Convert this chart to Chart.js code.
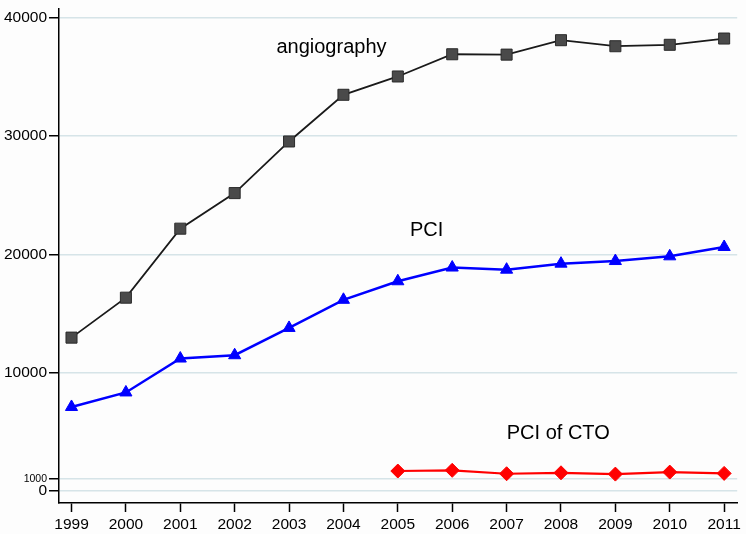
<!DOCTYPE html>
<html>
<head>
<meta charset="utf-8">
<script src="https://cdn.jsdelivr.net/npm/chart.js@4"></script>
<style>
    html, body { margin: 0; padding: 0; background: #ffffff; }
    #wrap { width: 746px; height: 534px; }
</style>
</head>
<body>
<div id="wrap"><canvas id="trendChart" width="746" height="534"></canvas></div>
<script>
// Values
const years = [1999, 2000, 2001, 2002, 2003, 2004, 2005, 2006, 2007, 2008, 2009, 2010, 2011];
const angiography = [12950, 16330, 22170, 25180, 29550, 33500, 35050, 36930, 36900, 38120, 37610, 37730, 38260];
const pci = [7080, 8310, 11180, 11460, 13770, 16150, 17720, 18880, 18700, 19210, 19430, 19830, 20620];
const ctoPci = [null, null, null, null, null, null, 1660, 1720, 1430, 1510, 1400, 1570, 1460];
const yTicks = [0, 1000, 10000, 20000, 30000, 40000];

// Text labels placed in data units
const seriesLabels = [
    { text: 'angiography', x: 2003.78, y: 37500 },
    { text: 'PCI', x: 2005.53, y: 22050 },
    { text: 'PCI of CTO', x: 2007.95, y: 4870 }
];

const FONT = '"Liberation Sans", Arial, Helvetica, sans-serif';

function toPoints(values) {
    return years.map((yr, i) => ({ x: yr, y: values[i] }));
}

const labelPlugin = {
    id: 'seriesLabels',
    afterDatasetsDraw(chart) {
        const ctx = chart.ctx;
        const xs = chart.scales.x;
        const ys = chart.scales.y;
        ctx.save();
        ctx.fillStyle = '#000000';
        ctx.font = '20px ' + FONT;
        ctx.textAlign = 'center';
        ctx.textBaseline = 'middle';
        seriesLabels.forEach(l => {
            ctx.fillText(l.text, xs.getPixelForValue(l.x), ys.getPixelForValue(l.y));
        });
        ctx.restore();
    }
};

const bgPlugin = {
    id: 'bg',
    beforeDraw(chart) {
        const ctx = chart.ctx;
        ctx.save();
        ctx.fillStyle = '#fdfdfd';
        ctx.fillRect(0, 0, chart.width, chart.height);
        ctx.restore();
    }
};

new Chart(document.getElementById('trendChart').getContext('2d'), {
    type: 'line',
    data: {
        datasets: [
            {
                label: 'angiography',
                data: toPoints(angiography),
                borderColor: '#1a1a1a',
                borderWidth: 1.8,
                pointStyle: 'rect',
                pointRadius: 7.8,
                pointBackgroundColor: '#4a4a4a',
                pointBorderColor: '#2a2a2a',
                pointBorderWidth: 1,
                tension: 0
            },
            {
                label: 'PCI',
                data: toPoints(pci),
                borderColor: '#0000ff',
                borderWidth: 2.5,
                pointStyle: 'triangle',
                pointRadius: 7,
                pointBackgroundColor: '#0000ff',
                pointBorderColor: '#0000ff',
                pointBorderWidth: 1,
                tension: 0
            },
            {
                label: 'PCI of CTO',
                data: toPoints(ctoPci),
                borderColor: '#ff0000',
                borderWidth: 2.2,
                pointStyle: 'rectRot',
                pointRadius: 7,
                pointBackgroundColor: '#ff0000',
                pointBorderColor: '#ff0000',
                pointBorderWidth: 1,
                spanGaps: false,
                tension: 0
            }
        ]
    },
    options: {
        responsive: false,
        animation: false,
        devicePixelRatio: 1,
        layout: { padding: { top: 1, right: 6, left: 0, bottom: 0 } },
        plugins: {
            legend: { display: false },
            tooltip: { enabled: false }
        },
        scales: {
            x: {
                type: 'linear',
                min: 1998.77,
                max: 2011.24,
                afterBuildTicks: scale => {
                    scale.ticks = years.map(v => ({ value: v }));
                },
                afterFit: scale => { scale.height = 31; },
                border: { display: true, color: '#000000', width: 1.5 },
                grid: {
                    drawOnChartArea: false,
                    drawTicks: true,
                    tickLength: 9,
                    tickColor: '#000000',
                    tickWidth: 1.5
                },
                ticks: {
                    color: '#000000',
                    padding: 3,
                    maxRotation: 0,
                    autoSkip: false,
                    font: { family: FONT, size: 15.5 },
                    callback: v => String(v)
                }
            },
            y: {
                type: 'linear',
                min: -1046,
                max: 40777,
                afterBuildTicks: scale => {
                    scale.ticks = yTicks.map(v => ({ value: v }));
                },
                afterFit: scale => {
                    scale.width = 59;
                    scale.paddingTop = 0;
                    scale.paddingBottom = 0;
                },
                border: { display: true, color: '#000000', width: 1.5 },
                grid: {
                    color: '#d6e4e8',
                    lineWidth: 1.5,
                    drawTicks: true,
                    tickLength: 10,
                    tickColor: '#000000',
                    tickWidth: 1.5
                },
                ticks: {
                    color: '#000000',
                    padding: 2,
                    autoSkip: false,
                    font: ctx => (ctx.tick && ctx.tick.value === 1000)
                        ? { family: FONT, size: 10.5 }
                        : { family: FONT, size: 15.5 },
                    callback: v => String(v)
                }
            }
        }
    },
    plugins: [bgPlugin, labelPlugin]
});
</script>
</body>
</html>
